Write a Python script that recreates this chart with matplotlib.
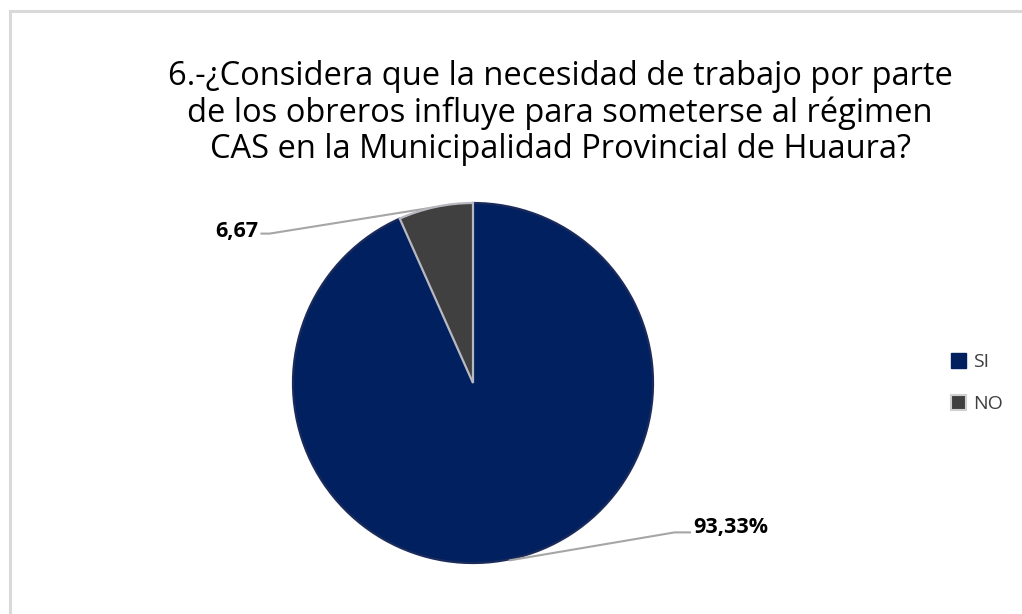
import matplotlib.pyplot as plt
from matplotlib.lines import Line2D
from matplotlib.patches import Patch

# data
labels = ["SI", "NO"]
values = [93.33, 6.67]
value_text = ["93,33%", "6,67"]
colors = ["#002060", "#404040"]
title = ("6.-¿Considera que la necesidad de trabajo por parte\n"
         "de los obreros influye para someterse al régimen\n"
         "CAS en la Municipalidad Provincial de Huaura?")

W, H = 1022, 614
fig = plt.figure(figsize=(W / 100, H / 100), dpi=100)
fig.patch.set_facecolor("white")

# chart frame (only left and top edges visible)
fig.add_artist(Line2D([10 / W, 10 / W], [0, 1 - 11 / H], color="#d9d9d9", lw=2.2))
fig.add_artist(Line2D([10 / W, 1], [1 - 11 / H, 1 - 11 / H], color="#d9d9d9", lw=2.2))

fig.text(560 / W, 1 - 113 / H, title, ha="center", va="center", fontsize=23.5,
         family="Open Sans", color="#000000", linespacing=1.12)

cx, cy, r = 473, 383, 180
ax = fig.add_axes([(cx - r) / W, (H - cy - r) / H, 2 * r / W, 2 * r / H])
wedges, _ = ax.pie(values, colors=colors, startangle=90, counterclock=False,
                   wedgeprops=dict(edgecolor="#b8b8c0", linewidth=1.6))
wedges[0].set_edgecolor("#1a2a5a")
ax.set_xlim(-1, 1)
ax.set_ylim(-1, 1)
ax.set_aspect("equal")
ax.axis("off")

# data labels with leader lines
lbl_pos = [(1.225, -0.80), (-1.195, 0.84)]
anchors = [(1.12, -0.83), (-1.13, 0.83)]
edge_pts = [(0.205, -0.985), (-0.205, 0.978)]
aligns = ["left", "right"]
for txt, pos, anc, ep, ha in zip(value_text, lbl_pos, anchors, edge_pts, aligns):
    ax.text(pos[0], pos[1], txt, ha=ha, va="center", fontsize=15.5, fontweight="bold",
            family="Open Sans", color="#000000", clip_on=False)
    ax.plot([pos[0] - (0.02 if ha == "left" else -0.02), anc[0], ep[0]],
            [anc[1], anc[1], ep[1]], color="#a6a6a6", lw=1.5, clip_on=False)
# light separator lines between slices
for w in wedges[1:]:
    w.set_zorder(3)

handles = [Patch(facecolor=colors[0], edgecolor=colors[0]),
           Patch(facecolor=colors[1], edgecolor="#d0d0d0", linewidth=1.5)]
leg = fig.legend(handles, labels, loc="center left",
                 bbox_to_anchor=(933 / W, 1 - 383 / H), frameon=False,
                 handlelength=0.8, handleheight=0.8, handletextpad=0.35,
                 labelspacing=1.2, prop=dict(family="Open Sans", size=14))
for t in leg.get_texts():
    t.set_color("#404040")

fig.savefig("out.png", dpi=100, facecolor="white")
